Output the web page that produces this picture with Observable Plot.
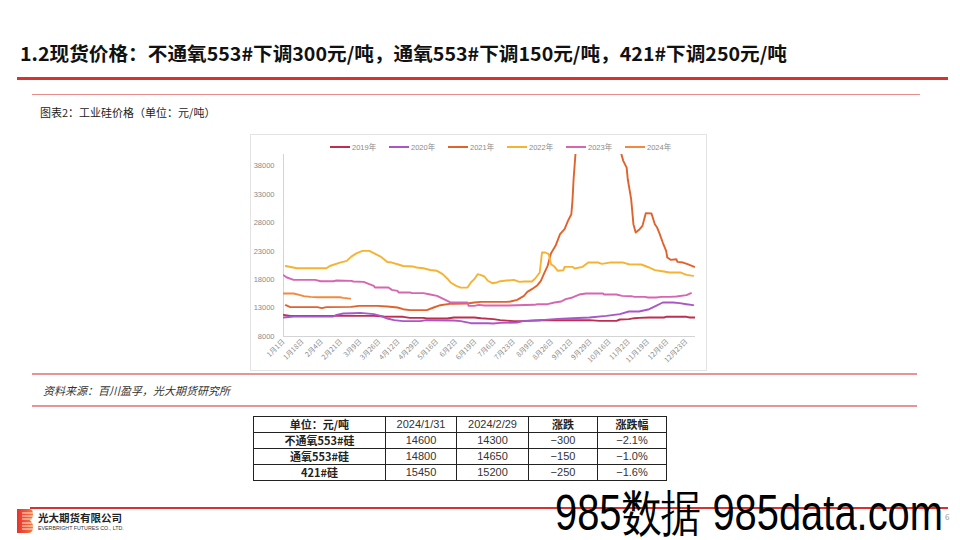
<!DOCTYPE html>
<html><head><meta charset="utf-8">
<script src="https://cdn.jsdelivr.net/npm/d3@7"></script>
<script src="https://cdn.jsdelivr.net/npm/@observablehq/plot@0.6"></script>
<style>
html,body{margin:0;padding:0;background:#fff;}
#page{position:relative;width:960px;height:540px;overflow:hidden;font-family:"Noto Sans CJK SC","Noto Sans",sans-serif;}
.abs{position:absolute;white-space:nowrap;}
#title{left:20px;top:41px;font-size:19px;font-weight:700;color:#111;transform-origin:0 0;line-height:24px;}
#chartbox{left:250px;top:134px;width:457px;height:237px;border:1px solid #e3e3e3;box-sizing:border-box;}
.leg{position:absolute;top:144px;font-size:7.5px;color:#8a8a8a;font-family:"Liberation Sans","Noto Sans CJK SC",sans-serif;line-height:8px;}
.leg i{display:inline-block;width:20px;height:2px;vertical-align:middle;margin-right:2px;position:relative;top:-1px;}
table{border-collapse:collapse;position:absolute;left:253px;top:416px;width:413px;table-layout:fixed;font-size:11px;}
td{border:1px solid #222;height:15px;padding:0;text-align:center;line-height:15px;color:#222;}
td.n{font-family:"Liberation Sans Narrow","Liberation Sans",sans-serif;color:#333;font-size:11px;}
td.h{font-weight:700;}
</style></head>
<body><div id="page"></div>
<script>
// ---------- data ----------
const yearNames = ["2019年","2020年","2021年","2022年","2023年","2024年"];
const yearColors = ["#BE2E50","#A957C6","#E0622C","#F6B332","#D766B2","#F28A3E"];
const yTicks = [8000,13000,18000,23000,28000,33000,38000];
const xTickLabels = ["1-1","1-18","2-4","2-21","3-9","3-26","4-12","4-29","5-16","6-2","6-19","7-6","7-23","8-9","8-26","9-12","9-29","10-16","11-2","11-19","12-6","12-23"];

const s2019 = [["1-1",11810],["1-7",11630],["2-20",11630],["3-21",11630],["3-30",11520],["4-16",11460],["4-22",11280],["5-4",11280],["5-7",11160],["5-25",11160],["5-31",11340],["6-18",11340],["6-24",11220],["7-5",11050],["7-11",10870],["7-23",10700],["8-4",10750],["8-16",10870],["9-28",10870],["10-7",10750],["10-22",10750],["10-25",10990],["11-2",11050],["11-7",11220],["11-11",11280],["11-20",11340],["12-3",11340],["12-5",11460],["12-23",11460],["12-26",11340],["12-31",11340]];
const s2020 = [["1-1",11340],["1-10",11520],["2-14",11520],["2-17",11810],["2-23",12040],["3-3",12100],["3-9",12160],["3-21",11930],["3-27",11630],["4-2",11160],["4-8",10870],["4-16",10700],["5-1",10700],["5-7",10870],["5-31",10810],["6-6",10700],["6-15",10340],["6-30",10340],["7-5",10280],["7-11",10400],["7-26",10460],["8-1",10750],["8-16",10870],["8-31",11100],["9-13",11220],["9-28",11340],["10-13",11630],["10-25",11930],["11-2",12390],["11-11",12390],["11-20",12800],["11-26",13390],["12-2",13980],["12-11",13980],["12-17",13860],["12-23",13680],["12-29",13510]];
const s2021 = [["1-3",13500],["1-7",13160],["1-31",13160],["2-4",12980],["2-8",13160],["3-1",13210],["3-8",13390],["3-24",13390],["4-2",13270],["4-11",13100],["4-16",12800],["4-22",12630],["5-7",12630],["5-13",13100],["5-19",13500],["5-27",13740],["5-31",13740],["6-12",13800],["6-18",13980],["6-24",14090],["7-17",14090],["7-20",14150],["7-26",14450],["8-1",15150],["8-4",15850],["8-8",16320],["8-13",17020],["8-16",17780],["8-19",19130],["8-22",20420],["8-25",22650],["8-29",23940],["9-2",25990],["9-6",26870],["9-9",28330],["9-12",29500],["9-13",31850],["9-14",35650],["9-16",41000],["9-22",53000],["10-1",63000],["10-12",66000],["10-20",58000],["10-25",41000],["10-28",38880],["10-31",37700],["11-1",35650],["11-4",32140],["11-6",27750],["11-8",26280],["11-11",26750],["11-14",27450],["11-17",29700],["11-22",29620],["11-25",27750],["11-27",27160],["11-29",26170],["12-2",24520],["12-5",23060],["12-6",21890],["12-9",21480],["12-14",21590],["12-15",21120],["12-20",21000],["12-24",20710],["12-30",20250]];
const s2022 = [["1-3",20400],["1-13",20000],["2-8",20000],["2-11",20400],["2-20",21000],["2-26",21300],["3-1",22050],["3-6",22650],["3-11",23060],["3-17",23060],["3-21",22650],["3-27",22050],["4-2",21100],["4-6",21000],["4-11",20700],["4-16",20400],["4-25",20300],["4-28",20130],["5-4",20000],["5-10",19700],["5-16",19550],["5-21",18960],["5-25",18200],["5-28",17500],["6-2",16900],["6-6",16600],["6-12",16600],["6-15",17500],["6-18",18080],["6-21",18960],["6-24",18780],["6-27",18550],["6-30",17800],["7-4",17370],["7-8",17500],["7-11",17720],["7-17",17840],["7-23",17960],["7-28",17600],["8-1",17670],["8-8",17670],["8-11",18200],["8-15",19250],["8-17",22770],["8-20",22770],["8-23",22470],["8-25",20700],["8-28",20300],["8-31",19550],["9-5",19660],["9-6",20250],["9-13",20250],["9-15",19960],["9-22",20250],["9-27",21000],["10-6",21000],["10-9",20770],["10-16",21000],["10-28",21000],["11-2",20700],["11-13",20660],["11-20",20130],["11-25",19660],["12-3",19430],["12-8",19250],["12-18",19250],["12-23",18840],["12-29",18660]];
const s2023 = [["1-1",18780],["1-4",18370],["1-10",17960],["1-29",17960],["2-3",17720],["2-14",17720],["2-17",17840],["3-1",17780],["3-3",17670],["3-12",17610],["3-17",17200],["3-21",16900],["3-22",16610],["4-3",16610],["4-6",16200],["4-11",16030],["4-12",15730],["4-22",15730],["4-24",15620],["5-4",15620],["5-10",15380],["5-16",15150],["5-22",14560],["5-27",14090],["5-28",13980],["6-12",13980],["6-13",13390],["6-18",13390],["6-22",13570],["6-27",13450],["7-17",13450],["8-10",13570],["8-13",13680],["8-22",13680],["8-28",13980],["9-3",14150],["9-7",14560],["9-13",14860],["9-19",15380],["9-25",15560],["10-10",15560],["10-11",15380],["10-22",15380],["10-27",15150],["11-4",15090],["11-7",14970],["11-16",14970],["11-19",14860],["11-26",14860],["12-1",14970],["12-8",14970],["12-14",15030],["12-23",15270],["12-27",15620]];
const s2024 = [["1-1",15560],["1-10",15560],["1-15",15320],["1-19",15090],["1-25",14970],["1-31",14900],["2-20",14900],["2-23",14800],["2-29",14650]];
const seriesList = [s2019,s2020,s2021,s2022,s2023,s2024];

const tableHead = ["单位：元/吨","2024/1/31","2024/2/29","涨跌","涨跌幅"];
const tableRows = ["不通氧553#硅","通氧553#硅","421#硅"];
const tableJan = [14600,14800,15450];
const tableFeb = [14300,14650,15200];
const tableChg = ["−300","−150","−250"];
const tablePct = ["−2.1%","−1.0%","−1.6%"];

const titleText = "1.2现货价格：不通氧553#下调300元/吨，通氧553#下调150元/吨，421#下调250元/吨";
const captionText = "图表2：工业硅价格（单位：元/吨）";
const sourceText = "资料来源：百川盈孚，光大期货研究所";

// ---------- build ----------
const parse = md => { const [m,d] = md.split("-").map(Number); return new Date(Date.UTC(2024, m-1, d)); };
const data = seriesList.flatMap((s,i) => s.map(([md,v]) => ({date: parse(md), value: v, year: yearNames[i]})));
const page = document.getElementById("page");

function add(html){ page.insertAdjacentHTML("beforeend", html); return page.lastElementChild; }

// header
const t = add(`<div class="abs" id="title">${titleText}</div>`);
add(`<div class="abs" style="left:17px;top:77px;width:931px;height:3px;background:#D8312F"></div>`);
add(`<div class="abs" style="left:32px;top:94px;width:888px;height:1px;background:#E98C8C"></div>`);
add(`<div class="abs" style="left:40px;top:104px;font-size:11px;color:#222;line-height:16px">${captionText}</div>`);

// chart
add(`<div class="abs" id="chartbox"></div>`);
const chart = Plot.plot({
  width: 457, height: 237,
  marginLeft: 33, marginRight: 12, marginTop: 20, marginBottom: 35,
  style: {fontFamily: "'Liberation Sans','Noto Sans CJK SC',sans-serif", fontSize: "7px", color: "#8a8a8a", background: "transparent", overflow: "visible"},
  x: {type: "utc", domain: [parse("1-1"), parse("12-31")]},
  y: {domain: [8000, 40000]},
  color: {domain: yearNames, range: yearColors},
  marks: [
    Plot.ruleY([8000], {stroke: "#d4d4d4", strokeWidth: 1}),
    Plot.ruleX([parse("1-1")], {y1: 8000, y2: 40000, stroke: "#d4d4d4", strokeWidth: 1}),
    Plot.axisY({ticks: yTicks, tickSize: 0, tickPadding: 9, tickFormat: d => String(d), label: null, fontSize: 7.5, fill: "#8a8a8a"}),
    Plot.axisX({ticks: xTickLabels.map(parse), tickSize: 0, tickPadding: 4, tickRotate: -45, label: null,
      tickFormat: d => `${d.getUTCMonth()+1}月${d.getUTCDate()}日`, fontSize: 7, fill: "#8a8a8a", fontFamily: "'Noto Sans CJK SC',sans-serif"}),
    Plot.lineY(data, {x: "date", y: "value", z: "year", stroke: "year", strokeWidth: 1.9, clip: true, strokeLinejoin: "round"})
  ]
});
chart.style.position = "absolute"; chart.style.left = "250px"; chart.style.top = "134px";
page.appendChild(chart);

// legend
yearNames.forEach((n,i) => {
  add(`<div class="leg" style="left:${330 + i*59}px"><i style="background:${yearColors[i]}"></i>${n}</div>`);
});

// source
add(`<div class="abs" style="left:32px;top:373px;width:885px;height:2px;background:#E59595"></div>`);
add(`<div class="abs" style="left:43px;top:382px;font-size:11px;font-style:italic;color:#333;line-height:16px">${sourceText}</div>`);
add(`<div class="abs" style="left:32px;top:405px;width:885px;height:2px;background:#E59595"></div>`);

// table
let th = `<table><colgroup><col style="width:132px"><col style="width:71px"><col style="width:72px"><col style="width:69px"><col style="width:69px"></colgroup>`;
th += `<tr>${tableHead.map((h,i)=>`<td class="${i===0||i>2?'h':'n'}">${h}</td>`).join("")}</tr>`;
tableRows.forEach((r,i)=>{
  th += `<tr><td class="h">${r}</td><td class="n">${tableJan[i]}</td><td class="n">${tableFeb[i]}</td><td class="n">${tableChg[i]}</td><td class="n">${tablePct[i]}</td></tr>`;
});
th += `</table>`;
add(th);

// footer
add(`<div class="abs" style="left:30px;top:507px;width:918px;height:2px;background:#D8312F"></div>`);
add(`<svg class="abs" style="left:17px;top:509px" width="16" height="24">
<defs><linearGradient id="lg" x1="0" x2="1"><stop offset="0" stop-color="#E8322C"/><stop offset="1" stop-color="#F07A3A"/></linearGradient></defs>
<path d="M0 0 H12 Q16 0 16 5 Q16 10 13 11.5 Q16 13 16 18 Q16 24 11 24 H0 Z" fill="url(#lg)"/>
<g stroke="#fff" stroke-width="1" opacity="0.85"><line x1="5" y1="4" x2="16" y2="4"/><line x1="5" y1="7" x2="16" y2="7"/><line x1="5" y1="10" x2="16" y2="10"/><line x1="5" y1="14" x2="16" y2="14"/><line x1="5" y1="17" x2="16" y2="17"/><line x1="5" y1="20" x2="16" y2="20"/></g></svg>`);
add(`<div class="abs" style="left:38px;top:511px;font-size:10.5px;font-weight:700;color:#222;line-height:14px">光大期货有限公司</div>`);
add(`<div class="abs" style="left:38px;top:525px;font-size:5.3px;color:#333;line-height:7px;font-family:'Liberation Sans',sans-serif">EVERBRIGHT FUTURES CO., LTD.</div>`);
add(`<div class="abs" style="left:945px;top:512px;font-size:8px;color:#999;line-height:10px">6</div>`);
const wm = add(`<div class="abs" style="left:555px;top:490px;font-size:50px;color:#000;line-height:46px;font-family:'Liberation Sans Narrow','Liberation Sans',sans-serif;transform-origin:0 0">985数据 985data.com</div>`);

// fit widths
function fit(el, w){ const r = el.getBoundingClientRect().width; if (r>0) el.style.transform = `scaleX(${w/r})`; }
fit(t, 767);
fit(wm, 388);
</script>
</body></html>
